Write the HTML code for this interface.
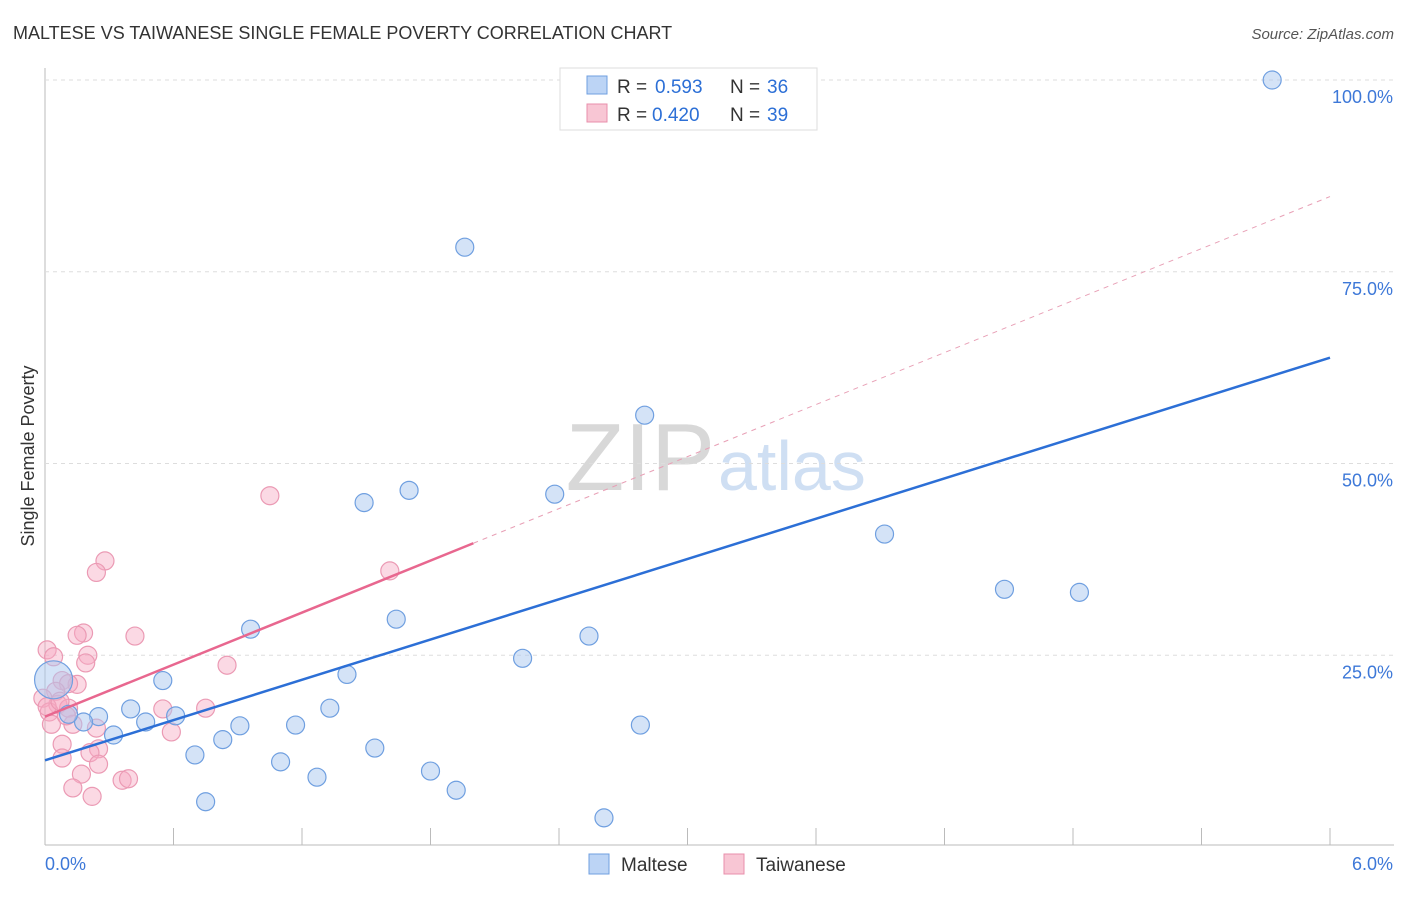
<!DOCTYPE html>
<html><head><meta charset="utf-8"><style>
body{margin:0;background:#fff;font-family:"Liberation Sans",sans-serif}
svg text{font-family:"Liberation Sans",sans-serif}
</style></head><body>
<svg id="c" width="1406" height="892">
<text x="13" y="39" font-size="18" fill="#333">MALTESE VS TAIWANESE SINGLE FEMALE POVERTY CORRELATION CHART</text>
<text x="1394" y="39" font-size="15" fill="#555" font-style="italic" text-anchor="end">Source: ZipAtlas.com</text>
<text transform="translate(34,456) rotate(-90)" font-size="18" fill="#333" text-anchor="middle">Single Female Poverty</text>
<text x="715" y="490" font-size="96" fill="#d8d8d8" font-family="Liberation Serif" text-anchor="end">ZIP</text>
<text x="718" y="490" font-size="70" fill="#cfdff3">atlas</text>
<g id="grid"></g><g id="pts"></g><g id="lines"></g>
<rect x="560" y="68" width="257" height="62" fill="#fff" stroke="#ddd"/>
<rect x="587" y="76" width="20" height="18" fill="#bcd4f5" stroke="#6f9fe0"/>
<rect x="587" y="104" width="20" height="18" fill="#f8c6d4" stroke="#e88fab"/>
<g font-size="19">
<text x="617" y="93" fill="#333">R =</text><text x="655" y="93" fill="#2c6fd6">0.593</text>
<text x="730" y="93" fill="#333">N =</text><text x="767" y="93" fill="#2c6fd6">36</text></g>
<g font-size="19">
<text x="617" y="121" fill="#333">R =</text><text x="652" y="121" fill="#2c6fd6">0.420</text>
<text x="730" y="121" fill="#333">N =</text><text x="767" y="121" fill="#2c6fd6">39</text></g>
<rect x="589" y="854" width="20" height="20" fill="#bcd4f5" stroke="#6f9fe0"/>
<text x="621" y="871" font-size="19" fill="#333">Maltese</text>
<rect x="724" y="854" width="20" height="20" fill="#f8c6d4" stroke="#e88fab"/>
<text x="756" y="871" font-size="19" fill="#333">Taiwanese</text>
</svg>
<script>
const yTicks=[25,50,75,100];
const yTickLabels=["25.0%","50.0%","75.0%","100.0%"];
const xTickLabels=["0.0%","6.0%"];
const malteseX=[5.73,1.96,2.80,1.70,1.49,2.38,3.92,4.48,4.83,1.64,0.96,2.54,2.23,1.41,0.55,0.40,1.33,0.25,0.61,0.18,0.47,0.91,1.17,2.78,0.32,0.83,1.54,0.70,1.10,1.27,1.80,1.92,0.75,2.61,0.04,0.11];
const malteseY=[100,78.2,56.3,46.5,44.9,46.0,40.8,33.6,33.2,29.7,28.4,27.5,24.6,22.5,21.7,18.0,18.1,17.0,17.1,16.3,16.3,15.8,15.9,15.9,14.6,14.0,12.9,12.0,11.1,9.1,9.9,7.4,5.9,3.8,21.8,17.3];
const taiwaneseX=[1.05,0.28,0.24,1.61,0.18,0.15,0.42,0.01,0.04,0.20,0.85,0.19,0.08,0.15,0.11,0.05,0.06,-0.01,0.55,0.75,0.11,0.02,0.03,0.13,0.24,0.59,0.08,0.25,0.21,0.08,0.25,0.17,0.36,0.39,0.13,0.22,0.01,0.07,0.10];
const taiwaneseY=[45.8,37.3,35.8,36.0,27.9,27.6,27.5,25.7,24.8,25.0,23.7,24.0,21.7,21.2,21.3,20.3,18.6,19.4,18.0,18.1,18.1,17.6,16.0,16.0,15.5,15.0,13.4,12.8,12.3,11.6,10.8,9.5,8.7,8.9,7.7,6.6,18.3,19.0,17.1];
const malteseTrend=[11.3,63.8];
const taiwaneseTrend=[17.0,84.8];
const taiwaneseSolidEnd=2.0;
const X=v=>45+v/6*1285, Y=v=>847-v/100*767;
const NS="http://www.w3.org/2000/svg";
function mk(p,t,a){const e=document.createElementNS(NS,t);for(const k in a)e.setAttribute(k,a[k]);p.appendChild(e);return e;}
const g=document.getElementById('grid');
let ax=mk(g,'line',{x1:45,y1:68,x2:45,y2:845,stroke:'#bbb'});


let bx=mk(g,'line',{x1:45,y1:845,x2:1394,y2:845,stroke:'#bbb'});


yTicks.forEach((t,i)=>{
 const l=mk(g,'line',{x1:45,y1:Y(t),x2:1394,y2:Y(t),stroke:'#ddd','stroke-dasharray':'4,4'});
 
 
 const tx=mk(g,'text',{x:1393,y:Y(t)+23,'font-size':18,fill:'#3d78d8','text-anchor':'end'});tx.textContent=yTickLabels[i];
 
 
});
for(let i=1;i<=10;i++){const x=45+i*128.5;const t=mk(g,'line',{x1:x,y1:828,x2:x,y2:845,stroke:'#bbb'});
 
 }
xTickLabels.forEach((s,i)=>{const t=mk(g,'text',{x:i?1393:45,y:870,'font-size':18,fill:'#3d78d8','text-anchor':i?'end':'start'});t.textContent=s;
 
 });
const P=document.getElementById('pts');
taiwaneseX.forEach((x,i)=>{const c=mk(P,'circle',{cx:X(x),cy:Y(taiwaneseY[i]),r:9,fill:'rgba(246,170,195,0.45)',stroke:'#eb9ab4','stroke-width':1.2});
 
 });
malteseX.forEach((x,i)=>{const c=mk(P,'circle',{cx:X(x),cy:Y(malteseY[i]),r:i==34?19:9,fill:'rgba(170,200,240,0.5)',stroke:'#6f9fe0','stroke-width':1.2});
 
 });
const L=document.getElementById('lines');
const ty=x=>taiwaneseTrend[0]+(taiwaneseTrend[1]-taiwaneseTrend[0])*x/6;
let l1=mk(L,'line',{x1:X(0),y1:Y(malteseTrend[0]),x2:X(6),y2:Y(malteseTrend[1]),stroke:'#2c6fd6','stroke-width':2.5});


let l2=mk(L,'line',{x1:X(0),y1:Y(ty(0)),x2:X(taiwaneseSolidEnd),y2:Y(ty(taiwaneseSolidEnd)),stroke:'#e8678f','stroke-width':2.5});


let l3=mk(L,'line',{x1:X(taiwaneseSolidEnd),y1:Y(ty(taiwaneseSolidEnd)),x2:X(6),y2:Y(ty(6)),stroke:'#e8a0b6','stroke-width':1,'stroke-dasharray':'5,5'});


</script>
</body></html>
